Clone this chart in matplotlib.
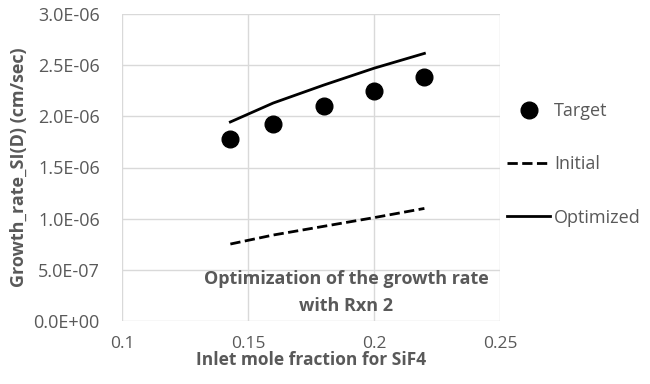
import matplotlib
matplotlib.use('Agg')
import matplotlib.pyplot as plt
from matplotlib.ticker import FuncFormatter

plt.rcParams['font.family'] = ['Open Sans', 'DejaVu Sans']

# data
x = [0.143, 0.16, 0.18, 0.2, 0.22]
target = [1.78e-6, 1.925e-6, 2.10e-6, 2.248e-6, 2.385e-6]
initial = [0.752e-6, 0.84e-6, 0.925e-6, 1.01e-6, 1.10e-6]
optimized = [1.945e-6, 2.13e-6, 2.305e-6, 2.47e-6, 2.615e-6]

grey = '#595959'

fig = plt.figure(figsize=(6.5, 3.84), dpi=100)
ax = fig.add_axes([122 / 650, 1 - 321 / 384, 378 / 650, 307 / 384])

ax.plot(x, target, 'o', color='black', markersize=12, label='Target', zorder=3)
ax.plot(x, initial, '--', color='black', linewidth=2, label='Initial')
ax.plot(x, optimized, '-', color='black', linewidth=2, label='Optimized')

ax.set_xlim(0.1, 0.25)
ax.set_ylim(0, 3.0e-6)
ax.set_xticks([0.1, 0.15, 0.2, 0.25])
ax.set_xticklabels(['0.1', '0.15', '0.2', '0.25'])
ax.set_yticks([i * 0.5e-6 for i in range(7)])
ax.yaxis.set_major_formatter(FuncFormatter(lambda v, p: '%.1E' % v))

ax.grid(True, color='#d9d9d9', linewidth=1)
ax.set_axisbelow(True)
for s in ax.spines.values():
    s.set_visible(False)
ax.tick_params(length=0, labelsize=13, labelcolor=grey)
ax.tick_params(axis='y', pad=16)
ax.tick_params(axis='x', pad=11, labelsize=12.5)

ax.set_xlabel('Inlet mole fraction for SiF4', fontsize=12.5, fontweight='bold', color=grey, labelpad=-1)
ax.set_ylabel('Growth_rate_SI(D) (cm/sec)', fontsize=13, fontweight='bold', color=grey, labelpad=4)

ax.text(0.1889, 0.28e-6, 'Optimization of the growth rate\nwith Rxn 2', ha='center', va='center',
        fontsize=13, fontweight='bold', color=grey, linespacing=1.65)

leg = ax.legend(loc='center left', bbox_to_anchor=(0.995, 0.51), frameon=False, fontsize=13,
                labelspacing=1.95, handlelength=2.4, handletextpad=0.2, borderpad=0)
for t in leg.get_texts():
    t.set_color(grey)

plt.savefig('out.png', dpi=100)
